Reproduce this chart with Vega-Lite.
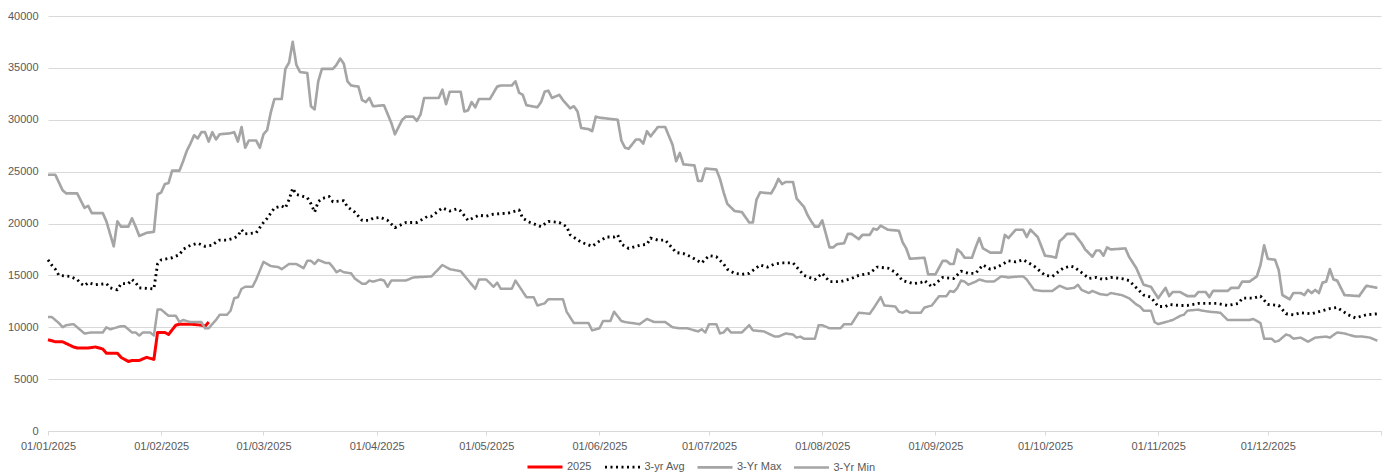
{
  "$schema": "https://vega.github.io/schema/vega-lite/v6.json",
  "width": 1333,
  "height": 415,
  "autosize": "none",
  "padding": {"left": 48, "top": 16, "right": 9, "bottom": 42},
  "background": "#ffffff",
  "config": {
    "font": "Liberation Sans",
    "view": {"stroke": null}
  },
  "data": {
    "values": [
      {"date": "2025-01-01", "series": "2025", "value": 8800},
      {"date": "2025-01-03", "series": "2025", "value": 8600},
      {"date": "2025-01-05", "series": "2025", "value": 8600},
      {"date": "2025-01-08", "series": "2025", "value": 8100},
      {"date": "2025-01-09", "series": "2025", "value": 8000},
      {"date": "2025-01-12", "series": "2025", "value": 8000},
      {"date": "2025-01-14", "series": "2025", "value": 8100},
      {"date": "2025-01-16", "series": "2025", "value": 7900},
      {"date": "2025-01-17", "series": "2025", "value": 7500},
      {"date": "2025-01-20", "series": "2025", "value": 7500},
      {"date": "2025-01-21", "series": "2025", "value": 7100},
      {"date": "2025-01-23", "series": "2025", "value": 6700},
      {"date": "2025-01-24", "series": "2025", "value": 6800},
      {"date": "2025-01-26", "series": "2025", "value": 6800},
      {"date": "2025-01-28", "series": "2025", "value": 7100},
      {"date": "2025-01-29", "series": "2025", "value": 7000},
      {"date": "2025-01-30", "series": "2025", "value": 6900},
      {"date": "2025-01-31", "series": "2025", "value": 9500},
      {"date": "2025-02-02", "series": "2025", "value": 9500},
      {"date": "2025-02-03", "series": "2025", "value": 9300},
      {"date": "2025-02-05", "series": "2025", "value": 10200},
      {"date": "2025-02-06", "series": "2025", "value": 10300},
      {"date": "2025-02-09", "series": "2025", "value": 10300},
      {"date": "2025-02-12", "series": "2025", "value": 10200},
      {"date": "2025-02-13", "series": "2025", "value": 10100},
      {"date": "2025-02-14", "series": "2025", "value": 10500},

      {"date": "2025-01-01", "series": "3-yr Avg", "value": 16500},
      {"date": "2025-01-02", "series": "3-yr Avg", "value": 16000},
      {"date": "2025-01-03", "series": "3-yr Avg", "value": 15600},
      {"date": "2025-01-04", "series": "3-yr Avg", "value": 15000},
      {"date": "2025-01-07", "series": "3-yr Avg", "value": 14900},
      {"date": "2025-01-09", "series": "3-yr Avg", "value": 14600},
      {"date": "2025-01-10", "series": "3-yr Avg", "value": 14200},
      {"date": "2025-01-11", "series": "3-yr Avg", "value": 14000},
      {"date": "2025-01-12", "series": "3-yr Avg", "value": 14300},
      {"date": "2025-01-14", "series": "3-yr Avg", "value": 14100},
      {"date": "2025-01-17", "series": "3-yr Avg", "value": 14200},
      {"date": "2025-01-18", "series": "3-yr Avg", "value": 13800},
      {"date": "2025-01-20", "series": "3-yr Avg", "value": 13600},
      {"date": "2025-01-21", "series": "3-yr Avg", "value": 14200},
      {"date": "2025-01-23", "series": "3-yr Avg", "value": 14200},
      {"date": "2025-01-24", "series": "3-yr Avg", "value": 14600},
      {"date": "2025-01-25", "series": "3-yr Avg", "value": 14300},
      {"date": "2025-01-26", "series": "3-yr Avg", "value": 13800},
      {"date": "2025-01-30", "series": "3-yr Avg", "value": 13700},
      {"date": "2025-01-31", "series": "3-yr Avg", "value": 16100},
      {"date": "2025-02-01", "series": "3-yr Avg", "value": 16500},
      {"date": "2025-02-04", "series": "3-yr Avg", "value": 16700},
      {"date": "2025-02-06", "series": "3-yr Avg", "value": 17000},
      {"date": "2025-02-07", "series": "3-yr Avg", "value": 17500},
      {"date": "2025-02-09", "series": "3-yr Avg", "value": 17900},
      {"date": "2025-02-11", "series": "3-yr Avg", "value": 18100},
      {"date": "2025-02-13", "series": "3-yr Avg", "value": 17800},
      {"date": "2025-02-15", "series": "3-yr Avg", "value": 17900},
      {"date": "2025-02-16", "series": "3-yr Avg", "value": 18200},
      {"date": "2025-02-17", "series": "3-yr Avg", "value": 18400},
      {"date": "2025-02-19", "series": "3-yr Avg", "value": 18400},
      {"date": "2025-02-21", "series": "3-yr Avg", "value": 18600},
      {"date": "2025-02-22", "series": "3-yr Avg", "value": 18800},
      {"date": "2025-02-23", "series": "3-yr Avg", "value": 19400},
      {"date": "2025-02-24", "series": "3-yr Avg", "value": 19000},
      {"date": "2025-02-27", "series": "3-yr Avg", "value": 19100},
      {"date": "2025-02-28", "series": "3-yr Avg", "value": 19600},
      {"date": "2025-03-01", "series": "3-yr Avg", "value": 20100},
      {"date": "2025-03-02", "series": "3-yr Avg", "value": 20500},
      {"date": "2025-03-03", "series": "3-yr Avg", "value": 21000},
      {"date": "2025-03-04", "series": "3-yr Avg", "value": 21500},
      {"date": "2025-03-06", "series": "3-yr Avg", "value": 21700},
      {"date": "2025-03-07", "series": "3-yr Avg", "value": 21500},
      {"date": "2025-03-08", "series": "3-yr Avg", "value": 22300},
      {"date": "2025-03-09", "series": "3-yr Avg", "value": 23400},
      {"date": "2025-03-10", "series": "3-yr Avg", "value": 22800},
      {"date": "2025-03-12", "series": "3-yr Avg", "value": 22600},
      {"date": "2025-03-13", "series": "3-yr Avg", "value": 22500},
      {"date": "2025-03-14", "series": "3-yr Avg", "value": 21900},
      {"date": "2025-03-15", "series": "3-yr Avg", "value": 21100},
      {"date": "2025-03-16", "series": "3-yr Avg", "value": 22100},
      {"date": "2025-03-17", "series": "3-yr Avg", "value": 22400},
      {"date": "2025-03-19", "series": "3-yr Avg", "value": 22600},
      {"date": "2025-03-20", "series": "3-yr Avg", "value": 22100},
      {"date": "2025-03-23", "series": "3-yr Avg", "value": 22200},
      {"date": "2025-03-24", "series": "3-yr Avg", "value": 21600},
      {"date": "2025-03-26", "series": "3-yr Avg", "value": 21100},
      {"date": "2025-03-27", "series": "3-yr Avg", "value": 20700},
      {"date": "2025-03-28", "series": "3-yr Avg", "value": 20300},
      {"date": "2025-03-30", "series": "3-yr Avg", "value": 20300},
      {"date": "2025-03-31", "series": "3-yr Avg", "value": 20500},
      {"date": "2025-04-02", "series": "3-yr Avg", "value": 20600},
      {"date": "2025-04-04", "series": "3-yr Avg", "value": 20300},
      {"date": "2025-04-06", "series": "3-yr Avg", "value": 19600},
      {"date": "2025-04-09", "series": "3-yr Avg", "value": 20100},
      {"date": "2025-04-12", "series": "3-yr Avg", "value": 20100},
      {"date": "2025-04-15", "series": "3-yr Avg", "value": 20700},
      {"date": "2025-04-16", "series": "3-yr Avg", "value": 20700},
      {"date": "2025-04-19", "series": "3-yr Avg", "value": 21500},
      {"date": "2025-04-21", "series": "3-yr Avg", "value": 21200},
      {"date": "2025-04-23", "series": "3-yr Avg", "value": 21400},
      {"date": "2025-04-24", "series": "3-yr Avg", "value": 21200},
      {"date": "2025-04-26", "series": "3-yr Avg", "value": 20300},
      {"date": "2025-04-29", "series": "3-yr Avg", "value": 20800},
      {"date": "2025-05-01", "series": "3-yr Avg", "value": 20700},
      {"date": "2025-05-03", "series": "3-yr Avg", "value": 20900},
      {"date": "2025-05-07", "series": "3-yr Avg", "value": 21000},
      {"date": "2025-05-10", "series": "3-yr Avg", "value": 21300},
      {"date": "2025-05-11", "series": "3-yr Avg", "value": 20500},
      {"date": "2025-05-13", "series": "3-yr Avg", "value": 20100},
      {"date": "2025-05-16", "series": "3-yr Avg", "value": 19700},
      {"date": "2025-05-18", "series": "3-yr Avg", "value": 20200},
      {"date": "2025-05-21", "series": "3-yr Avg", "value": 20100},
      {"date": "2025-05-23", "series": "3-yr Avg", "value": 19700},
      {"date": "2025-05-24", "series": "3-yr Avg", "value": 18900},
      {"date": "2025-05-27", "series": "3-yr Avg", "value": 18200},
      {"date": "2025-05-30", "series": "3-yr Avg", "value": 17800},
      {"date": "2025-06-01", "series": "3-yr Avg", "value": 18300},
      {"date": "2025-06-03", "series": "3-yr Avg", "value": 18700},
      {"date": "2025-06-05", "series": "3-yr Avg", "value": 18700},
      {"date": "2025-06-06", "series": "3-yr Avg", "value": 18900},
      {"date": "2025-06-07", "series": "3-yr Avg", "value": 18000},
      {"date": "2025-06-09", "series": "3-yr Avg", "value": 17600},
      {"date": "2025-06-12", "series": "3-yr Avg", "value": 17900},
      {"date": "2025-06-14", "series": "3-yr Avg", "value": 18000},
      {"date": "2025-06-15", "series": "3-yr Avg", "value": 18600},
      {"date": "2025-06-17", "series": "3-yr Avg", "value": 18400},
      {"date": "2025-06-19", "series": "3-yr Avg", "value": 18400},
      {"date": "2025-06-22", "series": "3-yr Avg", "value": 17200},
      {"date": "2025-06-24", "series": "3-yr Avg", "value": 17100},
      {"date": "2025-06-26", "series": "3-yr Avg", "value": 16800},
      {"date": "2025-06-29", "series": "3-yr Avg", "value": 16200},
      {"date": "2025-07-01", "series": "3-yr Avg", "value": 16900},
      {"date": "2025-07-03", "series": "3-yr Avg", "value": 16800},
      {"date": "2025-07-05", "series": "3-yr Avg", "value": 16100},
      {"date": "2025-07-06", "series": "3-yr Avg", "value": 15600},
      {"date": "2025-07-08", "series": "3-yr Avg", "value": 15200},
      {"date": "2025-07-10", "series": "3-yr Avg", "value": 15100},
      {"date": "2025-07-12", "series": "3-yr Avg", "value": 15200},
      {"date": "2025-07-15", "series": "3-yr Avg", "value": 16000},
      {"date": "2025-07-17", "series": "3-yr Avg", "value": 15800},
      {"date": "2025-07-19", "series": "3-yr Avg", "value": 16100},
      {"date": "2025-07-21", "series": "3-yr Avg", "value": 16200},
      {"date": "2025-07-24", "series": "3-yr Avg", "value": 16200},
      {"date": "2025-07-25", "series": "3-yr Avg", "value": 15800},
      {"date": "2025-07-27", "series": "3-yr Avg", "value": 15000},
      {"date": "2025-07-30", "series": "3-yr Avg", "value": 14600},
      {"date": "2025-08-01", "series": "3-yr Avg", "value": 15200},
      {"date": "2025-08-03", "series": "3-yr Avg", "value": 14400},
      {"date": "2025-08-06", "series": "3-yr Avg", "value": 14400},
      {"date": "2025-08-09", "series": "3-yr Avg", "value": 14700},
      {"date": "2025-08-11", "series": "3-yr Avg", "value": 15000},
      {"date": "2025-08-14", "series": "3-yr Avg", "value": 15200},
      {"date": "2025-08-16", "series": "3-yr Avg", "value": 15800},
      {"date": "2025-08-19", "series": "3-yr Avg", "value": 15700},
      {"date": "2025-08-21", "series": "3-yr Avg", "value": 15300},
      {"date": "2025-08-23", "series": "3-yr Avg", "value": 14500},
      {"date": "2025-08-26", "series": "3-yr Avg", "value": 14200},
      {"date": "2025-08-28", "series": "3-yr Avg", "value": 14300},
      {"date": "2025-08-29", "series": "3-yr Avg", "value": 14500},
      {"date": "2025-08-31", "series": "3-yr Avg", "value": 13900},
      {"date": "2025-09-03", "series": "3-yr Avg", "value": 14800},
      {"date": "2025-09-06", "series": "3-yr Avg", "value": 14700},
      {"date": "2025-09-08", "series": "3-yr Avg", "value": 15400},
      {"date": "2025-09-10", "series": "3-yr Avg", "value": 15200},
      {"date": "2025-09-12", "series": "3-yr Avg", "value": 15200},
      {"date": "2025-09-14", "series": "3-yr Avg", "value": 16000},
      {"date": "2025-09-16", "series": "3-yr Avg", "value": 15600},
      {"date": "2025-09-18", "series": "3-yr Avg", "value": 15800},
      {"date": "2025-09-21", "series": "3-yr Avg", "value": 16400},
      {"date": "2025-09-23", "series": "3-yr Avg", "value": 16300},
      {"date": "2025-09-25", "series": "3-yr Avg", "value": 16500},
      {"date": "2025-09-28", "series": "3-yr Avg", "value": 15900},
      {"date": "2025-10-01", "series": "3-yr Avg", "value": 15000},
      {"date": "2025-10-03", "series": "3-yr Avg", "value": 14900},
      {"date": "2025-10-06", "series": "3-yr Avg", "value": 15700},
      {"date": "2025-10-08", "series": "3-yr Avg", "value": 15900},
      {"date": "2025-10-09", "series": "3-yr Avg", "value": 15800},
      {"date": "2025-10-12", "series": "3-yr Avg", "value": 15000},
      {"date": "2025-10-13", "series": "3-yr Avg", "value": 14700},
      {"date": "2025-10-15", "series": "3-yr Avg", "value": 14800},
      {"date": "2025-10-17", "series": "3-yr Avg", "value": 14600},
      {"date": "2025-10-19", "series": "3-yr Avg", "value": 14800},
      {"date": "2025-10-22", "series": "3-yr Avg", "value": 14700},
      {"date": "2025-10-24", "series": "3-yr Avg", "value": 14500},
      {"date": "2025-10-26", "series": "3-yr Avg", "value": 13800},
      {"date": "2025-10-28", "series": "3-yr Avg", "value": 13100},
      {"date": "2025-10-30", "series": "3-yr Avg", "value": 12900},
      {"date": "2025-11-01", "series": "3-yr Avg", "value": 12000},
      {"date": "2025-11-03", "series": "3-yr Avg", "value": 12000},
      {"date": "2025-11-04", "series": "3-yr Avg", "value": 12200},
      {"date": "2025-11-07", "series": "3-yr Avg", "value": 12100},
      {"date": "2025-11-09", "series": "3-yr Avg", "value": 12100},
      {"date": "2025-11-12", "series": "3-yr Avg", "value": 12300},
      {"date": "2025-11-17", "series": "3-yr Avg", "value": 12300},
      {"date": "2025-11-20", "series": "3-yr Avg", "value": 12100},
      {"date": "2025-11-23", "series": "3-yr Avg", "value": 12300},
      {"date": "2025-11-24", "series": "3-yr Avg", "value": 12800},
      {"date": "2025-11-27", "series": "3-yr Avg", "value": 12800},
      {"date": "2025-11-29", "series": "3-yr Avg", "value": 13000},
      {"date": "2025-12-01", "series": "3-yr Avg", "value": 12200},
      {"date": "2025-12-04", "series": "3-yr Avg", "value": 12100},
      {"date": "2025-12-06", "series": "3-yr Avg", "value": 11300},
      {"date": "2025-12-08", "series": "3-yr Avg", "value": 11200},
      {"date": "2025-12-10", "series": "3-yr Avg", "value": 11400},
      {"date": "2025-12-13", "series": "3-yr Avg", "value": 11300},
      {"date": "2025-12-15", "series": "3-yr Avg", "value": 11500},
      {"date": "2025-12-18", "series": "3-yr Avg", "value": 11800},
      {"date": "2025-12-20", "series": "3-yr Avg", "value": 11900},
      {"date": "2025-12-23", "series": "3-yr Avg", "value": 11200},
      {"date": "2025-12-25", "series": "3-yr Avg", "value": 10900},
      {"date": "2025-12-28", "series": "3-yr Avg", "value": 11200},
      {"date": "2025-12-31", "series": "3-yr Avg", "value": 11300},

      {"date": "2025-01-01", "series": "3-Yr Max", "value": 24700},
      {"date": "2025-01-03", "series": "3-Yr Max", "value": 24700},
      {"date": "2025-01-05", "series": "3-Yr Max", "value": 23200},
      {"date": "2025-01-06", "series": "3-Yr Max", "value": 22900},
      {"date": "2025-01-09", "series": "3-Yr Max", "value": 22900},
      {"date": "2025-01-11", "series": "3-Yr Max", "value": 21500},
      {"date": "2025-01-12", "series": "3-Yr Max", "value": 21700},
      {"date": "2025-01-13", "series": "3-Yr Max", "value": 21000},
      {"date": "2025-01-16", "series": "3-Yr Max", "value": 21000},
      {"date": "2025-01-17", "series": "3-Yr Max", "value": 20200},
      {"date": "2025-01-18", "series": "3-Yr Max", "value": 19000},
      {"date": "2025-01-19", "series": "3-Yr Max", "value": 17800},
      {"date": "2025-01-20", "series": "3-Yr Max", "value": 20200},
      {"date": "2025-01-21", "series": "3-Yr Max", "value": 19700},
      {"date": "2025-01-23", "series": "3-Yr Max", "value": 19700},
      {"date": "2025-01-24", "series": "3-Yr Max", "value": 20500},
      {"date": "2025-01-25", "series": "3-Yr Max", "value": 19700},
      {"date": "2025-01-26", "series": "3-Yr Max", "value": 18800},
      {"date": "2025-01-28", "series": "3-Yr Max", "value": 19100},
      {"date": "2025-01-30", "series": "3-Yr Max", "value": 19200},
      {"date": "2025-01-31", "series": "3-Yr Max", "value": 22800},
      {"date": "2025-02-01", "series": "3-Yr Max", "value": 23000},
      {"date": "2025-02-02", "series": "3-Yr Max", "value": 23800},
      {"date": "2025-02-03", "series": "3-Yr Max", "value": 23900},
      {"date": "2025-02-04", "series": "3-Yr Max", "value": 25100},
      {"date": "2025-02-06", "series": "3-Yr Max", "value": 25100},
      {"date": "2025-02-07", "series": "3-Yr Max", "value": 26000},
      {"date": "2025-02-08", "series": "3-Yr Max", "value": 27000},
      {"date": "2025-02-09", "series": "3-Yr Max", "value": 27700},
      {"date": "2025-02-10", "series": "3-Yr Max", "value": 28500},
      {"date": "2025-02-11", "series": "3-Yr Max", "value": 28200},
      {"date": "2025-02-12", "series": "3-Yr Max", "value": 28800},
      {"date": "2025-02-13", "series": "3-Yr Max", "value": 28800},
      {"date": "2025-02-14", "series": "3-Yr Max", "value": 27900},
      {"date": "2025-02-15", "series": "3-Yr Max", "value": 28800},
      {"date": "2025-02-16", "series": "3-Yr Max", "value": 28100},
      {"date": "2025-02-17", "series": "3-Yr Max", "value": 28600},
      {"date": "2025-02-20", "series": "3-Yr Max", "value": 28700},
      {"date": "2025-02-21", "series": "3-Yr Max", "value": 28800},
      {"date": "2025-02-22", "series": "3-Yr Max", "value": 27900},
      {"date": "2025-02-23", "series": "3-Yr Max", "value": 29300},
      {"date": "2025-02-24", "series": "3-Yr Max", "value": 27300},
      {"date": "2025-02-25", "series": "3-Yr Max", "value": 28000},
      {"date": "2025-02-27", "series": "3-Yr Max", "value": 28000},
      {"date": "2025-02-28", "series": "3-Yr Max", "value": 27300},
      {"date": "2025-03-01", "series": "3-Yr Max", "value": 28600},
      {"date": "2025-03-02", "series": "3-Yr Max", "value": 29000},
      {"date": "2025-03-03", "series": "3-Yr Max", "value": 30700},
      {"date": "2025-03-04", "series": "3-Yr Max", "value": 32000},
      {"date": "2025-03-06", "series": "3-Yr Max", "value": 32000},
      {"date": "2025-03-07", "series": "3-Yr Max", "value": 34900},
      {"date": "2025-03-08", "series": "3-Yr Max", "value": 35500},
      {"date": "2025-03-09", "series": "3-Yr Max", "value": 37500},
      {"date": "2025-03-10", "series": "3-Yr Max", "value": 35300},
      {"date": "2025-03-11", "series": "3-Yr Max", "value": 34600},
      {"date": "2025-03-13", "series": "3-Yr Max", "value": 34500},
      {"date": "2025-03-14", "series": "3-Yr Max", "value": 31300},
      {"date": "2025-03-15", "series": "3-Yr Max", "value": 31000},
      {"date": "2025-03-16", "series": "3-Yr Max", "value": 33700},
      {"date": "2025-03-17", "series": "3-Yr Max", "value": 34900},
      {"date": "2025-03-20", "series": "3-Yr Max", "value": 34900},
      {"date": "2025-03-21", "series": "3-Yr Max", "value": 35300},
      {"date": "2025-03-22", "series": "3-Yr Max", "value": 35900},
      {"date": "2025-03-23", "series": "3-Yr Max", "value": 35400},
      {"date": "2025-03-24", "series": "3-Yr Max", "value": 33700},
      {"date": "2025-03-25", "series": "3-Yr Max", "value": 33300},
      {"date": "2025-03-27", "series": "3-Yr Max", "value": 33200},
      {"date": "2025-03-28", "series": "3-Yr Max", "value": 31900},
      {"date": "2025-03-29", "series": "3-Yr Max", "value": 31700},
      {"date": "2025-03-30", "series": "3-Yr Max", "value": 32100},
      {"date": "2025-03-31", "series": "3-Yr Max", "value": 31300},
      {"date": "2025-04-03", "series": "3-Yr Max", "value": 31400},
      {"date": "2025-04-05", "series": "3-Yr Max", "value": 29700},
      {"date": "2025-04-06", "series": "3-Yr Max", "value": 28600},
      {"date": "2025-04-08", "series": "3-Yr Max", "value": 30000},
      {"date": "2025-04-09", "series": "3-Yr Max", "value": 30300},
      {"date": "2025-04-11", "series": "3-Yr Max", "value": 30300},
      {"date": "2025-04-12", "series": "3-Yr Max", "value": 29900},
      {"date": "2025-04-13", "series": "3-Yr Max", "value": 30500},
      {"date": "2025-04-14", "series": "3-Yr Max", "value": 32100},
      {"date": "2025-04-18", "series": "3-Yr Max", "value": 32100},
      {"date": "2025-04-19", "series": "3-Yr Max", "value": 32900},
      {"date": "2025-04-20", "series": "3-Yr Max", "value": 31500},
      {"date": "2025-04-21", "series": "3-Yr Max", "value": 32700},
      {"date": "2025-04-24", "series": "3-Yr Max", "value": 32700},
      {"date": "2025-04-25", "series": "3-Yr Max", "value": 30800},
      {"date": "2025-04-26", "series": "3-Yr Max", "value": 30900},
      {"date": "2025-04-27", "series": "3-Yr Max", "value": 31700},
      {"date": "2025-04-28", "series": "3-Yr Max", "value": 31200},
      {"date": "2025-04-29", "series": "3-Yr Max", "value": 32000},
      {"date": "2025-05-02", "series": "3-Yr Max", "value": 32000},
      {"date": "2025-05-04", "series": "3-Yr Max", "value": 33200},
      {"date": "2025-05-05", "series": "3-Yr Max", "value": 33300},
      {"date": "2025-05-08", "series": "3-Yr Max", "value": 33300},
      {"date": "2025-05-09", "series": "3-Yr Max", "value": 33700},
      {"date": "2025-05-10", "series": "3-Yr Max", "value": 32600},
      {"date": "2025-05-11", "series": "3-Yr Max", "value": 32400},
      {"date": "2025-05-12", "series": "3-Yr Max", "value": 31400},
      {"date": "2025-05-15", "series": "3-Yr Max", "value": 31200},
      {"date": "2025-05-16", "series": "3-Yr Max", "value": 31700},
      {"date": "2025-05-17", "series": "3-Yr Max", "value": 32700},
      {"date": "2025-05-18", "series": "3-Yr Max", "value": 32800},
      {"date": "2025-05-19", "series": "3-Yr Max", "value": 32100},
      {"date": "2025-05-21", "series": "3-Yr Max", "value": 32400},
      {"date": "2025-05-22", "series": "3-Yr Max", "value": 31900},
      {"date": "2025-05-24", "series": "3-Yr Max", "value": 31100},
      {"date": "2025-05-25", "series": "3-Yr Max", "value": 31300},
      {"date": "2025-05-26", "series": "3-Yr Max", "value": 30800},
      {"date": "2025-05-27", "series": "3-Yr Max", "value": 29200},
      {"date": "2025-05-29", "series": "3-Yr Max", "value": 29100},
      {"date": "2025-05-30", "series": "3-Yr Max", "value": 28900},
      {"date": "2025-05-31", "series": "3-Yr Max", "value": 30300},
      {"date": "2025-06-01", "series": "3-Yr Max", "value": 30200},
      {"date": "2025-06-06", "series": "3-Yr Max", "value": 30000},
      {"date": "2025-06-07", "series": "3-Yr Max", "value": 28000},
      {"date": "2025-06-08", "series": "3-Yr Max", "value": 27300},
      {"date": "2025-06-09", "series": "3-Yr Max", "value": 27200},
      {"date": "2025-06-11", "series": "3-Yr Max", "value": 28100},
      {"date": "2025-06-12", "series": "3-Yr Max", "value": 28100},
      {"date": "2025-06-13", "series": "3-Yr Max", "value": 27700},
      {"date": "2025-06-14", "series": "3-Yr Max", "value": 28900},
      {"date": "2025-06-15", "series": "3-Yr Max", "value": 28400},
      {"date": "2025-06-17", "series": "3-Yr Max", "value": 29300},
      {"date": "2025-06-19", "series": "3-Yr Max", "value": 29300},
      {"date": "2025-06-21", "series": "3-Yr Max", "value": 27600},
      {"date": "2025-06-22", "series": "3-Yr Max", "value": 26000},
      {"date": "2025-06-23", "series": "3-Yr Max", "value": 26800},
      {"date": "2025-06-24", "series": "3-Yr Max", "value": 25700},
      {"date": "2025-06-27", "series": "3-Yr Max", "value": 25600},
      {"date": "2025-06-28", "series": "3-Yr Max", "value": 24100},
      {"date": "2025-06-29", "series": "3-Yr Max", "value": 24100},
      {"date": "2025-06-30", "series": "3-Yr Max", "value": 25300},
      {"date": "2025-07-03", "series": "3-Yr Max", "value": 25200},
      {"date": "2025-07-04", "series": "3-Yr Max", "value": 24300},
      {"date": "2025-07-05", "series": "3-Yr Max", "value": 23000},
      {"date": "2025-07-06", "series": "3-Yr Max", "value": 21900},
      {"date": "2025-07-08", "series": "3-Yr Max", "value": 21200},
      {"date": "2025-07-10", "series": "3-Yr Max", "value": 21100},
      {"date": "2025-07-12", "series": "3-Yr Max", "value": 20100},
      {"date": "2025-07-13", "series": "3-Yr Max", "value": 20100},
      {"date": "2025-07-14", "series": "3-Yr Max", "value": 22300},
      {"date": "2025-07-15", "series": "3-Yr Max", "value": 23000},
      {"date": "2025-07-18", "series": "3-Yr Max", "value": 22900},
      {"date": "2025-07-19", "series": "3-Yr Max", "value": 23500},
      {"date": "2025-07-20", "series": "3-Yr Max", "value": 24300},
      {"date": "2025-07-21", "series": "3-Yr Max", "value": 23800},
      {"date": "2025-07-22", "series": "3-Yr Max", "value": 24000},
      {"date": "2025-07-24", "series": "3-Yr Max", "value": 24000},
      {"date": "2025-07-25", "series": "3-Yr Max", "value": 22400},
      {"date": "2025-07-27", "series": "3-Yr Max", "value": 21600},
      {"date": "2025-07-28", "series": "3-Yr Max", "value": 20800},
      {"date": "2025-07-29", "series": "3-Yr Max", "value": 20200},
      {"date": "2025-07-30", "series": "3-Yr Max", "value": 19700},
      {"date": "2025-07-31", "series": "3-Yr Max", "value": 19700},
      {"date": "2025-08-01", "series": "3-Yr Max", "value": 20300},
      {"date": "2025-08-03", "series": "3-Yr Max", "value": 17700},
      {"date": "2025-08-04", "series": "3-Yr Max", "value": 17700},
      {"date": "2025-08-05", "series": "3-Yr Max", "value": 18000},
      {"date": "2025-08-07", "series": "3-Yr Max", "value": 18100},
      {"date": "2025-08-08", "series": "3-Yr Max", "value": 19000},
      {"date": "2025-08-09", "series": "3-Yr Max", "value": 19000},
      {"date": "2025-08-11", "series": "3-Yr Max", "value": 18500},
      {"date": "2025-08-12", "series": "3-Yr Max", "value": 18900},
      {"date": "2025-08-14", "series": "3-Yr Max", "value": 18900},
      {"date": "2025-08-15", "series": "3-Yr Max", "value": 19500},
      {"date": "2025-08-16", "series": "3-Yr Max", "value": 19400},
      {"date": "2025-08-17", "series": "3-Yr Max", "value": 19800},
      {"date": "2025-08-19", "series": "3-Yr Max", "value": 19400},
      {"date": "2025-08-22", "series": "3-Yr Max", "value": 19300},
      {"date": "2025-08-23", "series": "3-Yr Max", "value": 18200},
      {"date": "2025-08-24", "series": "3-Yr Max", "value": 17600},
      {"date": "2025-08-25", "series": "3-Yr Max", "value": 16600},
      {"date": "2025-08-29", "series": "3-Yr Max", "value": 16700},
      {"date": "2025-08-30", "series": "3-Yr Max", "value": 15100},
      {"date": "2025-09-01", "series": "3-Yr Max", "value": 15100},
      {"date": "2025-09-03", "series": "3-Yr Max", "value": 16400},
      {"date": "2025-09-04", "series": "3-Yr Max", "value": 16400},
      {"date": "2025-09-05", "series": "3-Yr Max", "value": 16100},
      {"date": "2025-09-06", "series": "3-Yr Max", "value": 16100},
      {"date": "2025-09-07", "series": "3-Yr Max", "value": 17500},
      {"date": "2025-09-08", "series": "3-Yr Max", "value": 17200},
      {"date": "2025-09-09", "series": "3-Yr Max", "value": 16700},
      {"date": "2025-09-11", "series": "3-Yr Max", "value": 16700},
      {"date": "2025-09-12", "series": "3-Yr Max", "value": 17700},
      {"date": "2025-09-13", "series": "3-Yr Max", "value": 18600},
      {"date": "2025-09-14", "series": "3-Yr Max", "value": 17600},
      {"date": "2025-09-16", "series": "3-Yr Max", "value": 17200},
      {"date": "2025-09-19", "series": "3-Yr Max", "value": 17200},
      {"date": "2025-09-20", "series": "3-Yr Max", "value": 18900},
      {"date": "2025-09-21", "series": "3-Yr Max", "value": 18600},
      {"date": "2025-09-23", "series": "3-Yr Max", "value": 19400},
      {"date": "2025-09-25", "series": "3-Yr Max", "value": 19400},
      {"date": "2025-09-26", "series": "3-Yr Max", "value": 18700},
      {"date": "2025-09-27", "series": "3-Yr Max", "value": 19400},
      {"date": "2025-09-29", "series": "3-Yr Max", "value": 18700},
      {"date": "2025-10-01", "series": "3-Yr Max", "value": 16900},
      {"date": "2025-10-03", "series": "3-Yr Max", "value": 16800},
      {"date": "2025-10-04", "series": "3-Yr Max", "value": 16700},
      {"date": "2025-10-05", "series": "3-Yr Max", "value": 18300},
      {"date": "2025-10-06", "series": "3-Yr Max", "value": 18600},
      {"date": "2025-10-07", "series": "3-Yr Max", "value": 19000},
      {"date": "2025-10-09", "series": "3-Yr Max", "value": 19000},
      {"date": "2025-10-11", "series": "3-Yr Max", "value": 18100},
      {"date": "2025-10-12", "series": "3-Yr Max", "value": 17500},
      {"date": "2025-10-14", "series": "3-Yr Max", "value": 16800},
      {"date": "2025-10-15", "series": "3-Yr Max", "value": 17400},
      {"date": "2025-10-16", "series": "3-Yr Max", "value": 17400},
      {"date": "2025-10-17", "series": "3-Yr Max", "value": 16900},
      {"date": "2025-10-18", "series": "3-Yr Max", "value": 17700},
      {"date": "2025-10-19", "series": "3-Yr Max", "value": 17500},
      {"date": "2025-10-23", "series": "3-Yr Max", "value": 17600},
      {"date": "2025-10-24", "series": "3-Yr Max", "value": 16800},
      {"date": "2025-10-26", "series": "3-Yr Max", "value": 15700},
      {"date": "2025-10-28", "series": "3-Yr Max", "value": 14100},
      {"date": "2025-10-29", "series": "3-Yr Max", "value": 14000},
      {"date": "2025-10-30", "series": "3-Yr Max", "value": 13900},
      {"date": "2025-11-01", "series": "3-Yr Max", "value": 12800},
      {"date": "2025-11-03", "series": "3-Yr Max", "value": 13800},
      {"date": "2025-11-04", "series": "3-Yr Max", "value": 13000},
      {"date": "2025-11-05", "series": "3-Yr Max", "value": 13400},
      {"date": "2025-11-07", "series": "3-Yr Max", "value": 13400},
      {"date": "2025-11-09", "series": "3-Yr Max", "value": 13000},
      {"date": "2025-11-11", "series": "3-Yr Max", "value": 13000},
      {"date": "2025-11-12", "series": "3-Yr Max", "value": 13400},
      {"date": "2025-11-14", "series": "3-Yr Max", "value": 13400},
      {"date": "2025-11-15", "series": "3-Yr Max", "value": 12900},
      {"date": "2025-11-16", "series": "3-Yr Max", "value": 13500},
      {"date": "2025-11-20", "series": "3-Yr Max", "value": 13500},
      {"date": "2025-11-21", "series": "3-Yr Max", "value": 13800},
      {"date": "2025-11-23", "series": "3-Yr Max", "value": 13800},
      {"date": "2025-11-24", "series": "3-Yr Max", "value": 14400},
      {"date": "2025-11-26", "series": "3-Yr Max", "value": 14400},
      {"date": "2025-11-28", "series": "3-Yr Max", "value": 14900},
      {"date": "2025-11-29", "series": "3-Yr Max", "value": 16000},
      {"date": "2025-11-30", "series": "3-Yr Max", "value": 17900},
      {"date": "2025-12-01", "series": "3-Yr Max", "value": 16600},
      {"date": "2025-12-03", "series": "3-Yr Max", "value": 16500},
      {"date": "2025-12-04", "series": "3-Yr Max", "value": 15500},
      {"date": "2025-12-05", "series": "3-Yr Max", "value": 13100},
      {"date": "2025-12-07", "series": "3-Yr Max", "value": 12700},
      {"date": "2025-12-08", "series": "3-Yr Max", "value": 13300},
      {"date": "2025-12-10", "series": "3-Yr Max", "value": 13300},
      {"date": "2025-12-11", "series": "3-Yr Max", "value": 13100},
      {"date": "2025-12-12", "series": "3-Yr Max", "value": 13600},
      {"date": "2025-12-13", "series": "3-Yr Max", "value": 13300},
      {"date": "2025-12-14", "series": "3-Yr Max", "value": 13600},
      {"date": "2025-12-15", "series": "3-Yr Max", "value": 13300},
      {"date": "2025-12-16", "series": "3-Yr Max", "value": 14300},
      {"date": "2025-12-17", "series": "3-Yr Max", "value": 14400},
      {"date": "2025-12-18", "series": "3-Yr Max", "value": 15600},
      {"date": "2025-12-19", "series": "3-Yr Max", "value": 14600},
      {"date": "2025-12-20", "series": "3-Yr Max", "value": 14500},
      {"date": "2025-12-22", "series": "3-Yr Max", "value": 13100},
      {"date": "2025-12-26", "series": "3-Yr Max", "value": 13000},
      {"date": "2025-12-28", "series": "3-Yr Max", "value": 14000},
      {"date": "2025-12-31", "series": "3-Yr Max", "value": 13800},

      {"date": "2025-01-01", "series": "3-Yr Min", "value": 11000},
      {"date": "2025-01-02", "series": "3-Yr Min", "value": 11000},
      {"date": "2025-01-04", "series": "3-Yr Min", "value": 10400},
      {"date": "2025-01-05", "series": "3-Yr Min", "value": 10000},
      {"date": "2025-01-06", "series": "3-Yr Min", "value": 10200},
      {"date": "2025-01-08", "series": "3-Yr Min", "value": 10300},
      {"date": "2025-01-10", "series": "3-Yr Min", "value": 9700},
      {"date": "2025-01-11", "series": "3-Yr Min", "value": 9400},
      {"date": "2025-01-13", "series": "3-Yr Min", "value": 9500},
      {"date": "2025-01-16", "series": "3-Yr Min", "value": 9500},
      {"date": "2025-01-17", "series": "3-Yr Min", "value": 10000},
      {"date": "2025-01-18", "series": "3-Yr Min", "value": 9800},
      {"date": "2025-01-21", "series": "3-Yr Min", "value": 10100},
      {"date": "2025-01-22", "series": "3-Yr Min", "value": 10100},
      {"date": "2025-01-24", "series": "3-Yr Min", "value": 9500},
      {"date": "2025-01-25", "series": "3-Yr Min", "value": 9500},
      {"date": "2025-01-26", "series": "3-Yr Min", "value": 9200},
      {"date": "2025-01-27", "series": "3-Yr Min", "value": 9500},
      {"date": "2025-01-29", "series": "3-Yr Min", "value": 9500},
      {"date": "2025-01-30", "series": "3-Yr Min", "value": 9200},
      {"date": "2025-01-31", "series": "3-Yr Min", "value": 11700},
      {"date": "2025-02-01", "series": "3-Yr Min", "value": 11700},
      {"date": "2025-02-03", "series": "3-Yr Min", "value": 11100},
      {"date": "2025-02-05", "series": "3-Yr Min", "value": 11100},
      {"date": "2025-02-06", "series": "3-Yr Min", "value": 10500},
      {"date": "2025-02-07", "series": "3-Yr Min", "value": 10700},
      {"date": "2025-02-09", "series": "3-Yr Min", "value": 10500},
      {"date": "2025-02-12", "series": "3-Yr Min", "value": 10500},
      {"date": "2025-02-13", "series": "3-Yr Min", "value": 9900},
      {"date": "2025-02-14", "series": "3-Yr Min", "value": 9900},
      {"date": "2025-02-16", "series": "3-Yr Min", "value": 10700},
      {"date": "2025-02-17", "series": "3-Yr Min", "value": 11200},
      {"date": "2025-02-19", "series": "3-Yr Min", "value": 11200},
      {"date": "2025-02-20", "series": "3-Yr Min", "value": 11600},
      {"date": "2025-02-21", "series": "3-Yr Min", "value": 12800},
      {"date": "2025-02-22", "series": "3-Yr Min", "value": 12900},
      {"date": "2025-02-23", "series": "3-Yr Min", "value": 13700},
      {"date": "2025-02-24", "series": "3-Yr Min", "value": 13900},
      {"date": "2025-02-26", "series": "3-Yr Min", "value": 13900},
      {"date": "2025-02-27", "series": "3-Yr Min", "value": 14600},
      {"date": "2025-03-01", "series": "3-Yr Min", "value": 16300},
      {"date": "2025-03-03", "series": "3-Yr Min", "value": 15900},
      {"date": "2025-03-05", "series": "3-Yr Min", "value": 15800},
      {"date": "2025-03-06", "series": "3-Yr Min", "value": 15600},
      {"date": "2025-03-08", "series": "3-Yr Min", "value": 16100},
      {"date": "2025-03-10", "series": "3-Yr Min", "value": 16100},
      {"date": "2025-03-12", "series": "3-Yr Min", "value": 15700},
      {"date": "2025-03-13", "series": "3-Yr Min", "value": 16400},
      {"date": "2025-03-14", "series": "3-Yr Min", "value": 16400},
      {"date": "2025-03-15", "series": "3-Yr Min", "value": 16100},
      {"date": "2025-03-16", "series": "3-Yr Min", "value": 16500},
      {"date": "2025-03-18", "series": "3-Yr Min", "value": 16200},
      {"date": "2025-03-19", "series": "3-Yr Min", "value": 16200},
      {"date": "2025-03-20", "series": "3-Yr Min", "value": 15800},
      {"date": "2025-03-21", "series": "3-Yr Min", "value": 15300},
      {"date": "2025-03-22", "series": "3-Yr Min", "value": 15500},
      {"date": "2025-03-23", "series": "3-Yr Min", "value": 15300},
      {"date": "2025-03-25", "series": "3-Yr Min", "value": 15200},
      {"date": "2025-03-26", "series": "3-Yr Min", "value": 14700},
      {"date": "2025-03-28", "series": "3-Yr Min", "value": 14200},
      {"date": "2025-03-29", "series": "3-Yr Min", "value": 14200},
      {"date": "2025-03-30", "series": "3-Yr Min", "value": 14500},
      {"date": "2025-03-31", "series": "3-Yr Min", "value": 14400},
      {"date": "2025-04-02", "series": "3-Yr Min", "value": 14600},
      {"date": "2025-04-03", "series": "3-Yr Min", "value": 14500},
      {"date": "2025-04-04", "series": "3-Yr Min", "value": 13900},
      {"date": "2025-04-05", "series": "3-Yr Min", "value": 14500},
      {"date": "2025-04-09", "series": "3-Yr Min", "value": 14500},
      {"date": "2025-04-11", "series": "3-Yr Min", "value": 14800},
      {"date": "2025-04-16", "series": "3-Yr Min", "value": 14900},
      {"date": "2025-04-19", "series": "3-Yr Min", "value": 16000},
      {"date": "2025-04-21", "series": "3-Yr Min", "value": 15600},
      {"date": "2025-04-24", "series": "3-Yr Min", "value": 15400},
      {"date": "2025-04-28", "series": "3-Yr Min", "value": 13700},
      {"date": "2025-04-29", "series": "3-Yr Min", "value": 14600},
      {"date": "2025-05-01", "series": "3-Yr Min", "value": 14600},
      {"date": "2025-05-03", "series": "3-Yr Min", "value": 13900},
      {"date": "2025-05-04", "series": "3-Yr Min", "value": 14300},
      {"date": "2025-05-05", "series": "3-Yr Min", "value": 13700},
      {"date": "2025-05-08", "series": "3-Yr Min", "value": 13700},
      {"date": "2025-05-09", "series": "3-Yr Min", "value": 14500},
      {"date": "2025-05-12", "series": "3-Yr Min", "value": 12900},
      {"date": "2025-05-14", "series": "3-Yr Min", "value": 12900},
      {"date": "2025-05-15", "series": "3-Yr Min", "value": 12100},
      {"date": "2025-05-17", "series": "3-Yr Min", "value": 12300},
      {"date": "2025-05-18", "series": "3-Yr Min", "value": 12700},
      {"date": "2025-05-22", "series": "3-Yr Min", "value": 12700},
      {"date": "2025-05-23", "series": "3-Yr Min", "value": 11500},
      {"date": "2025-05-25", "series": "3-Yr Min", "value": 10400},
      {"date": "2025-05-29", "series": "3-Yr Min", "value": 10400},
      {"date": "2025-05-30", "series": "3-Yr Min", "value": 9700},
      {"date": "2025-06-01", "series": "3-Yr Min", "value": 9900},
      {"date": "2025-06-02", "series": "3-Yr Min", "value": 10600},
      {"date": "2025-06-04", "series": "3-Yr Min", "value": 10600},
      {"date": "2025-06-05", "series": "3-Yr Min", "value": 11500},
      {"date": "2025-06-07", "series": "3-Yr Min", "value": 10600},
      {"date": "2025-06-08", "series": "3-Yr Min", "value": 10500},
      {"date": "2025-06-10", "series": "3-Yr Min", "value": 10400},
      {"date": "2025-06-12", "series": "3-Yr Min", "value": 10300},
      {"date": "2025-06-14", "series": "3-Yr Min", "value": 10800},
      {"date": "2025-06-16", "series": "3-Yr Min", "value": 10500},
      {"date": "2025-06-19", "series": "3-Yr Min", "value": 10500},
      {"date": "2025-06-21", "series": "3-Yr Min", "value": 10000},
      {"date": "2025-06-23", "series": "3-Yr Min", "value": 9900},
      {"date": "2025-06-25", "series": "3-Yr Min", "value": 9900},
      {"date": "2025-06-28", "series": "3-Yr Min", "value": 9600},
      {"date": "2025-06-29", "series": "3-Yr Min", "value": 9800},
      {"date": "2025-06-30", "series": "3-Yr Min", "value": 9500},
      {"date": "2025-07-01", "series": "3-Yr Min", "value": 10300},
      {"date": "2025-07-03", "series": "3-Yr Min", "value": 10300},
      {"date": "2025-07-04", "series": "3-Yr Min", "value": 9400},
      {"date": "2025-07-05", "series": "3-Yr Min", "value": 9500},
      {"date": "2025-07-06", "series": "3-Yr Min", "value": 9900},
      {"date": "2025-07-07", "series": "3-Yr Min", "value": 9500},
      {"date": "2025-07-10", "series": "3-Yr Min", "value": 9500},
      {"date": "2025-07-12", "series": "3-Yr Min", "value": 10200},
      {"date": "2025-07-13", "series": "3-Yr Min", "value": 9700},
      {"date": "2025-07-16", "series": "3-Yr Min", "value": 9600},
      {"date": "2025-07-19", "series": "3-Yr Min", "value": 9100},
      {"date": "2025-07-20", "series": "3-Yr Min", "value": 9100},
      {"date": "2025-07-22", "series": "3-Yr Min", "value": 9400},
      {"date": "2025-07-24", "series": "3-Yr Min", "value": 9300},
      {"date": "2025-07-25", "series": "3-Yr Min", "value": 9000},
      {"date": "2025-07-26", "series": "3-Yr Min", "value": 9100},
      {"date": "2025-07-27", "series": "3-Yr Min", "value": 8900},
      {"date": "2025-07-30", "series": "3-Yr Min", "value": 8900},
      {"date": "2025-07-31", "series": "3-Yr Min", "value": 10200},
      {"date": "2025-08-01", "series": "3-Yr Min", "value": 10200},
      {"date": "2025-08-03", "series": "3-Yr Min", "value": 9900},
      {"date": "2025-08-06", "series": "3-Yr Min", "value": 9900},
      {"date": "2025-08-07", "series": "3-Yr Min", "value": 10300},
      {"date": "2025-08-09", "series": "3-Yr Min", "value": 10300},
      {"date": "2025-08-11", "series": "3-Yr Min", "value": 11400},
      {"date": "2025-08-14", "series": "3-Yr Min", "value": 11300},
      {"date": "2025-08-15", "series": "3-Yr Min", "value": 11800},
      {"date": "2025-08-17", "series": "3-Yr Min", "value": 12900},
      {"date": "2025-08-18", "series": "3-Yr Min", "value": 12100},
      {"date": "2025-08-21", "series": "3-Yr Min", "value": 12000},
      {"date": "2025-08-22", "series": "3-Yr Min", "value": 11500},
      {"date": "2025-08-23", "series": "3-Yr Min", "value": 11400},
      {"date": "2025-08-24", "series": "3-Yr Min", "value": 11600},
      {"date": "2025-08-25", "series": "3-Yr Min", "value": 11400},
      {"date": "2025-08-28", "series": "3-Yr Min", "value": 11400},
      {"date": "2025-08-29", "series": "3-Yr Min", "value": 11900},
      {"date": "2025-08-31", "series": "3-Yr Min", "value": 12100},
      {"date": "2025-09-02", "series": "3-Yr Min", "value": 13000},
      {"date": "2025-09-04", "series": "3-Yr Min", "value": 13000},
      {"date": "2025-09-05", "series": "3-Yr Min", "value": 13500},
      {"date": "2025-09-06", "series": "3-Yr Min", "value": 13400},
      {"date": "2025-09-07", "series": "3-Yr Min", "value": 13800},
      {"date": "2025-09-08", "series": "3-Yr Min", "value": 14500},
      {"date": "2025-09-09", "series": "3-Yr Min", "value": 14400},
      {"date": "2025-09-10", "series": "3-Yr Min", "value": 14100},
      {"date": "2025-09-12", "series": "3-Yr Min", "value": 14400},
      {"date": "2025-09-13", "series": "3-Yr Min", "value": 14600},
      {"date": "2025-09-15", "series": "3-Yr Min", "value": 14400},
      {"date": "2025-09-17", "series": "3-Yr Min", "value": 14400},
      {"date": "2025-09-19", "series": "3-Yr Min", "value": 14900},
      {"date": "2025-09-21", "series": "3-Yr Min", "value": 14800},
      {"date": "2025-09-24", "series": "3-Yr Min", "value": 14900},
      {"date": "2025-09-25", "series": "3-Yr Min", "value": 14900},
      {"date": "2025-09-26", "series": "3-Yr Min", "value": 14600},
      {"date": "2025-09-28", "series": "3-Yr Min", "value": 13600},
      {"date": "2025-09-30", "series": "3-Yr Min", "value": 13500},
      {"date": "2025-10-03", "series": "3-Yr Min", "value": 13500},
      {"date": "2025-10-05", "series": "3-Yr Min", "value": 14000},
      {"date": "2025-10-07", "series": "3-Yr Min", "value": 13700},
      {"date": "2025-10-09", "series": "3-Yr Min", "value": 13800},
      {"date": "2025-10-10", "series": "3-Yr Min", "value": 14100},
      {"date": "2025-10-11", "series": "3-Yr Min", "value": 13600},
      {"date": "2025-10-13", "series": "3-Yr Min", "value": 13300},
      {"date": "2025-10-14", "series": "3-Yr Min", "value": 13500},
      {"date": "2025-10-16", "series": "3-Yr Min", "value": 13200},
      {"date": "2025-10-18", "series": "3-Yr Min", "value": 13100},
      {"date": "2025-10-19", "series": "3-Yr Min", "value": 13300},
      {"date": "2025-10-22", "series": "3-Yr Min", "value": 13100},
      {"date": "2025-10-24", "series": "3-Yr Min", "value": 12800},
      {"date": "2025-10-26", "series": "3-Yr Min", "value": 12200},
      {"date": "2025-10-27", "series": "3-Yr Min", "value": 12000},
      {"date": "2025-10-28", "series": "3-Yr Min", "value": 11600},
      {"date": "2025-10-30", "series": "3-Yr Min", "value": 11600},
      {"date": "2025-10-31", "series": "3-Yr Min", "value": 10500},
      {"date": "2025-11-01", "series": "3-Yr Min", "value": 10300},
      {"date": "2025-11-03", "series": "3-Yr Min", "value": 10500},
      {"date": "2025-11-05", "series": "3-Yr Min", "value": 10700},
      {"date": "2025-11-07", "series": "3-Yr Min", "value": 11100},
      {"date": "2025-11-08", "series": "3-Yr Min", "value": 11200},
      {"date": "2025-11-09", "series": "3-Yr Min", "value": 11600},
      {"date": "2025-11-12", "series": "3-Yr Min", "value": 11700},
      {"date": "2025-11-13", "series": "3-Yr Min", "value": 11600},
      {"date": "2025-11-15", "series": "3-Yr Min", "value": 11500},
      {"date": "2025-11-18", "series": "3-Yr Min", "value": 11400},
      {"date": "2025-11-20", "series": "3-Yr Min", "value": 10700},
      {"date": "2025-11-26", "series": "3-Yr Min", "value": 10700},
      {"date": "2025-11-27", "series": "3-Yr Min", "value": 10800},
      {"date": "2025-11-29", "series": "3-Yr Min", "value": 10400},
      {"date": "2025-11-30", "series": "3-Yr Min", "value": 8900},
      {"date": "2025-12-02", "series": "3-Yr Min", "value": 8900},
      {"date": "2025-12-03", "series": "3-Yr Min", "value": 8600},
      {"date": "2025-12-04", "series": "3-Yr Min", "value": 8700},
      {"date": "2025-12-06", "series": "3-Yr Min", "value": 9300},
      {"date": "2025-12-07", "series": "3-Yr Min", "value": 9200},
      {"date": "2025-12-08", "series": "3-Yr Min", "value": 8900},
      {"date": "2025-12-10", "series": "3-Yr Min", "value": 9000},
      {"date": "2025-12-12", "series": "3-Yr Min", "value": 8600},
      {"date": "2025-12-14", "series": "3-Yr Min", "value": 9000},
      {"date": "2025-12-17", "series": "3-Yr Min", "value": 9100},
      {"date": "2025-12-18", "series": "3-Yr Min", "value": 9000},
      {"date": "2025-12-20", "series": "3-Yr Min", "value": 9500},
      {"date": "2025-12-22", "series": "3-Yr Min", "value": 9400},
      {"date": "2025-12-25", "series": "3-Yr Min", "value": 9100},
      {"date": "2025-12-27", "series": "3-Yr Min", "value": 9100},
      {"date": "2025-12-29", "series": "3-Yr Min", "value": 9000},
      {"date": "2025-12-31", "series": "3-Yr Min", "value": 8700}
    ]
  },
  "mark": {"type": "line", "strokeCap": "butt", "strokeJoin": "round", "interpolate": "linear"},
  "encoding": {
    "x": {
      "field": "date",
      "type": "temporal",
      "scale": {
        "type": "utc",
        "domain": [
          {"year": 2025, "month": 1, "date": 1, "utc": true},
          {"year": 2026, "month": 1, "date": 1, "utc": true}
        ]
      },
      "axis": {
        "title": null,
        "grid": false,
        "values": [
          {"year": 2025, "month": 1, "date": 1, "utc": true},
          {"year": 2025, "month": 2, "date": 1, "utc": true},
          {"year": 2025, "month": 3, "date": 1, "utc": true},
          {"year": 2025, "month": 4, "date": 1, "utc": true},
          {"year": 2025, "month": 5, "date": 1, "utc": true},
          {"year": 2025, "month": 6, "date": 1, "utc": true},
          {"year": 2025, "month": 7, "date": 1, "utc": true},
          {"year": 2025, "month": 8, "date": 1, "utc": true},
          {"year": 2025, "month": 9, "date": 1, "utc": true},
          {"year": 2025, "month": 10, "date": 1, "utc": true},
          {"year": 2025, "month": 11, "date": 1, "utc": true},
          {"year": 2025, "month": 12, "date": 1, "utc": true},
          {"year": 2026, "month": 1, "date": 1, "utc": true}
        ],
        "labelExpr": "utcyear(datum.value) > 2025 ? '' : utcFormat(datum.value, '%d/%m/%Y')",
        "labelFlush": false,
        "labelOverlap": false,
        "labelFontSize": 11,
        "labelColor": "#595959",
        "labelPadding": 5,
        "domainColor": "#d9d9d9",
        "domainWidth": 1,
        "tickColor": "#d9d9d9",
        "tickSize": 4
      }
    },
    "y": {
      "field": "value",
      "type": "quantitative",
      "scale": {"domain": [0, 40000], "nice": false, "zero": true},
      "axis": {
        "title": null,
        "values": [0, 5000, 10000, 15000, 20000, 25000, 30000, 35000, 40000],
        "format": "d",
        "domain": false,
        "ticks": false,
        "grid": true,
        "gridColor": "#d9d9d9",
        "gridWidth": 1,
        "labelFontSize": 11,
        "labelColor": "#595959",
        "labelPadding": 10
      }
    },
    "color": {
      "field": "series",
      "type": "nominal",
      "sort": ["2025", "3-yr Avg", "3-Yr Max", "3-Yr Min"],
      "scale": {
        "domain": ["2025", "3-yr Avg", "3-Yr Max", "3-Yr Min"],
        "range": ["#ff0000", "#000000", "#a5a5a5", "#a5a5a5"]
      },
      "legend": {
        "title": null,
        "orient": "none",
        "legendX": 478,
        "legendY": 432,
        "direction": "horizontal",
        "symbolType": "stroke",
        "symbolSize": 1225,
        "symbolStrokeWidth": 3,
        "labelFontSize": 11,
        "labelColor": "#595959",
        "labelOffset": 3,
        "columnPadding": 6.5
      }
    },
    "strokeDash": {
      "field": "series",
      "type": "nominal",
      "sort": ["2025", "3-yr Avg", "3-Yr Max", "3-Yr Min"],
      "scale": {
        "domain": ["2025", "3-yr Avg", "3-Yr Max", "3-Yr Min"],
        "range": [[1, 0], [2, 3.5], [1, 0], [1, 0]]
      }
    },
    "strokeWidth": {
      "field": "series",
      "type": "nominal",
      "scale": {
        "domain": ["2025", "3-yr Avg", "3-Yr Max", "3-Yr Min"],
        "range": [3, 2.5, 3, 3]
      },
      "legend": null
    }
  }
}
